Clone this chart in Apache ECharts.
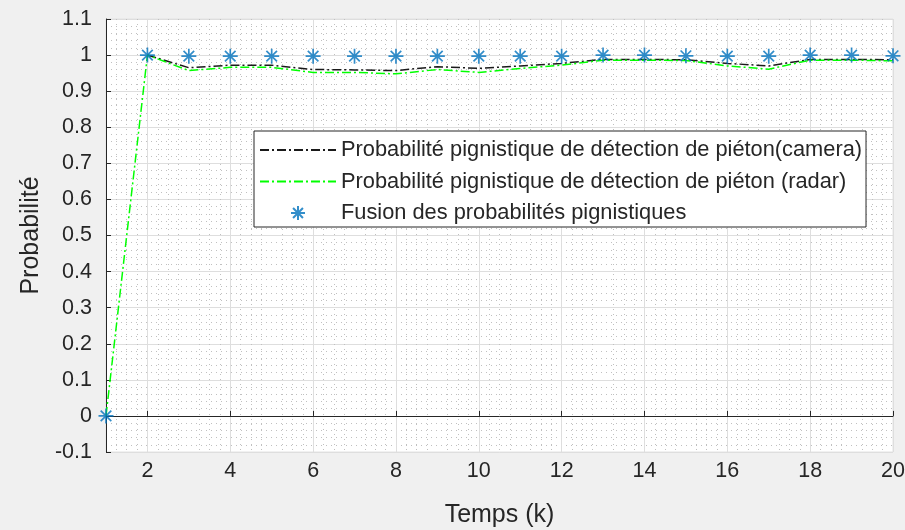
<!DOCTYPE html>
<html>
<head>
<meta charset="utf-8">
<script src="https://cdn.jsdelivr.net/npm/echarts@6/dist/echarts.min.js"></script>
<style>
  html, body { margin: 0; padding: 0; background: #f0f0f0; }
  #chart { width: 905px; height: 530px; }
</style>
</head>
<body>
<div id="chart"></div>
<script>
// ---- data ----
const kValues = [1, 2, 3, 4, 5, 6, 7, 8, 9, 10, 11, 12, 13, 14, 15, 16, 17, 18, 19, 20];
const cameraK = [2, 3, 4, 5, 6, 7, 8, 9, 10, 11, 12, 13, 14, 15, 16, 17, 18, 19, 20];
const cameraProb = [1.0, 0.965, 0.972, 0.972, 0.960, 0.959, 0.957, 0.968, 0.963, 0.970, 0.977, 0.988, 0.988, 0.987, 0.977, 0.970, 0.988, 0.988, 0.987];
const radarProb = [0, 1.0, 0.957, 0.966, 0.966, 0.952, 0.952, 0.948, 0.960, 0.952, 0.963, 0.972, 0.986, 0.986, 0.985, 0.970, 0.961, 0.986, 0.986, 0.984];
const fusionProb = [0, 1.0, 0.997, 0.997, 0.997, 0.997, 0.997, 0.997, 0.997, 0.997, 0.997, 0.997, 1.0, 1.0, 0.998, 0.997, 0.997, 1.0, 1.0, 0.998];
const xTicks = [2, 4, 6, 8, 10, 12, 14, 16, 18, 20];
const seriesNames = [
  'Probabilité pignistique de détection de piéton(camera)',
  'Probabilité pignistique de détection de piéton (radar)',
  'Fusion des probabilités pignistiques'
];
const xName = 'Temps (k)';
const yName = 'Probabilité';

const pair = (xs, ys) => xs.map((x, i) => [x, ys[i]]);
const starPath = 'path://M0,-1L0,1M-1,0L1,0M-0.707,-0.707L0.707,0.707M-0.707,0.707L0.707,-0.707';
const dark = '#262626';
const font = 'Liberation Sans, Arial, Helvetica, sans-serif';

const chart = echarts.init(document.getElementById('chart'), null, { renderer: 'canvas' });
chart.setOption({
  backgroundColor: '#f0f0f0',
  animation: false,
  textStyle: { fontFamily: font },
  grid: {
    left: 106, right: 12, top: 19, bottom: 78,
    containLabel: false, outerBoundsMode: 'none',
    show: true, backgroundColor: '#ffffff', borderColor: '#e3e3e3', borderWidth: 1
  },
  legend: {
    orient: 'vertical',
    left: 254, top: 131,
    padding: [8, 4, 3, 5],
    itemWidth: 76, itemHeight: 14, itemGap: 9.5,
    backgroundColor: '#ffffff',
    borderColor: dark, borderWidth: 1,
    textStyle: { fontSize: 21.8, color: dark, fontFamily: font },
    data: [
      { name: seriesNames[0], itemStyle: { opacity: 0 } },
      { name: seriesNames[1], itemStyle: { opacity: 0 } },
      { name: seriesNames[2] }
    ]
  },
  xAxis: {
    type: 'value', min: 1, max: 20, interval: 1,
    name: xName, nameLocation: 'middle', nameGap: 51,
    nameTextStyle: { fontSize: 25, color: dark, fontFamily: font },
    axisLine: { show: true, lineStyle: { color: dark, width: 1 } },
    axisTick: { show: true, inside: true, length: 5, customValues: xTicks, lineStyle: { color: dark } },
    axisLabel: { customValues: xTicks, margin: 8, fontSize: 21.5, color: dark, fontFamily: font },
    splitLine: { show: true, lineStyle: { color: '#dedede', width: 1 } },
    minorTick: { show: false, splitNumber: 4 },
    minorSplitLine: { show: true, lineStyle: { color: '#c0c0c0', width: 1, type: [1, 4] } }
  },
  yAxis: {
    type: 'value', min: -0.1, max: 1.1, interval: 0.1,
    name: yName, nameLocation: 'middle', nameGap: 62,
    nameTextStyle: { fontSize: 25, color: dark, fontFamily: font },
    axisLine: { show: true, lineStyle: { color: dark, width: 1 } },
    axisTick: { show: true, inside: true, length: 5, lineStyle: { color: dark } },
    axisLabel: {
      margin: 14, fontSize: 21.5, color: dark, fontFamily: font,
      formatter: v => String(Math.round(v * 10) / 10)
    },
    splitLine: { show: true, lineStyle: { color: '#dedede', width: 1 } },
    minorTick: { show: false, splitNumber: 5 },
    minorSplitLine: { show: true, lineStyle: { color: '#c0c0c0', width: 1, type: [1, 4] } }
  },
  series: [
    {
      name: seriesNames[0], type: 'line', data: pair(cameraK, cameraProb),
      showSymbol: false, symbol: 'none', z: 3,
      itemStyle: { color: '#1a1a1a' },
      lineStyle: { color: '#1a1a1a', width: 1.5, type: [9, 3, 2, 3] }
    },
    {
      name: seriesNames[1], type: 'line', data: pair(kValues, radarProb),
      showSymbol: false, symbol: 'none', z: 4,
      itemStyle: { color: '#00ff00' },
      lineStyle: { color: '#00ff00', width: 1.5, type: [9, 3, 2, 3] }
    },
    {
      name: seriesNames[2], type: 'scatter', data: pair(kValues, fusionProb),
      symbol: starPath, symbolSize: 15, z: 5,
      itemStyle: { color: 'rgba(0,0,0,0)', borderColor: '#0072bd', borderWidth: 1.7 }
    }
  ]
});
</script>
</body>
</html>
